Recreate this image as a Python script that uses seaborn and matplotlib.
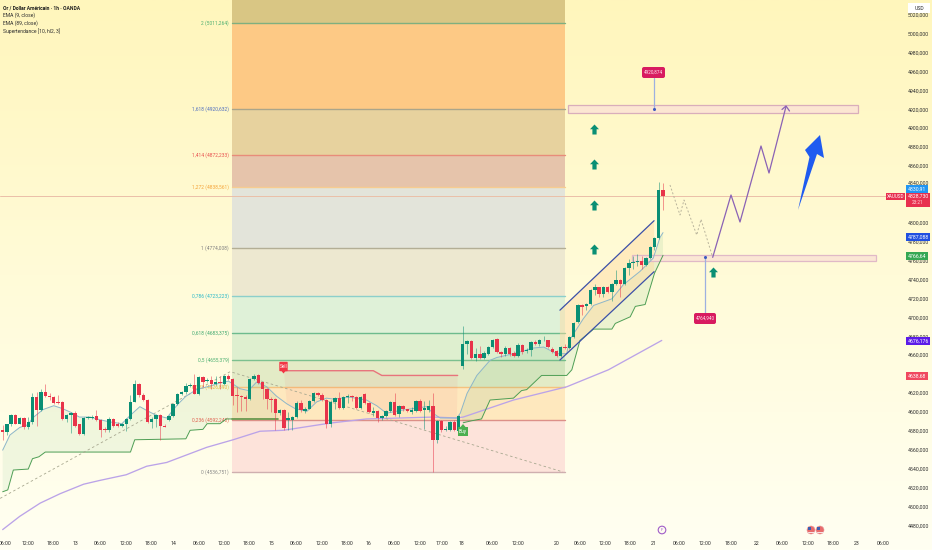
import numpy as np
import pandas as pd
import matplotlib
matplotlib.use('Agg')
import matplotlib.pyplot as plt
import seaborn as sns
from matplotlib.patches import Rectangle, Polygon, FancyBboxPatch, Circle
from matplotlib.path import Path
from matplotlib.transforms import Affine2D

sns.set_theme(style='white')
plt.rcParams['font.family'] = ['Roboto', 'DejaVu Sans']

# candles, 4xxx prices
opens = [581,579,588,597,588,594,585,590,616,602,621,617,616,611,611,593,597,599,588,577,594,594,596,592,582,581,593,588,586,588,
         593,611,630,618,613,590,593,597,586,592,596,609,619,621,628,629,619,637,633,634,630,632,630,638,635,618,617,616,614,635,
         639,632,625,614,614,599,602,592,592,595,610,601,604,612,620,618,613,588,611,615,605,616,617,616,605,619,610,599,601,594,
         596,601,611,598,607,603,600,601,612,602,602,607,571,591,581,581,590,580,649,672,675,657,662,657,662,669,678,664,662,668,
         663,660,671,665,666,674,672,676,676,667,665,660,669,668,680,695,714,712,715,729,732,725,733,727,736,740,736,753,758,759,
         760,756,763,775,784,835]
highs = [587,588,598,598,595,595,595,620,621,625,630,620,617,618,612,598,600,601,588,595,596,597,602,593,584,595,594,590,589,594,
         618,634,631,620,614,595,598,598,588,597,610,620,623,631,631,640,638,638,636,638,638,638,639,641,636,627,618,618,636,641,
         641,632,626,616,615,604,603,600,596,612,613,606,613,621,621,620,614,613,616,622,617,619,618,617,617,620,611,606,602,597,
         602,612,620,608,608,604,606,613,614,612,613,620,592,592,586,591,592,597,691,677,676,668,670,665,670,678,679,665,670,669,
         665,673,672,668,675,676,678,681,677,669,666,670,672,681,695,715,715,716,730,736,733,734,734,737,750,741,754,762,765,767,
         765,764,776,785,843,842]
lows = [571,576,586,588,588,582,582,588,586,601,616,613,609,609,592,590,578,584,576,576,593,593,591,574,579,579,585,584,584,580,
        592,611,616,612,589,583,584,571,584,591,595,608,618,619,627,619,618,627,632,625,629,625,629,634,608,600,601,601,613,634,
        630,614,604,600,581,597,581,581,581,594,600,599,603,611,617,612,583,585,604,604,604,610,612,603,604,609,599,596,590,592,
        595,600,596,595,601,600,598,600,600,582,600,537,568,579,580,580,580,578,646,662,656,654,656,656,661,668,663,658,660,660,
        658,659,662,663,660,671,670,675,668,663,659,659,667,667,679,694,703,708,714,724,722,722,726,718,735,722,735,745,752,755,
        752,755,762,772,783,814]
closes = [579,588,597,588,594,585,590,616,602,621,617,616,610,610,593,597,599,586,577,594,595,595,592,581,581,593,586,586,588,593,
          611,630,618,613,590,593,597,586,585,596,609,619,621,628,629,619,637,632,634,630,632,631,638,635,617,617,616,614,635,638,
          631,625,614,613,599,602,583,594,595,610,602,604,612,620,618,613,588,611,615,605,616,617,616,605,616,610,600,601,594,596,
          601,611,597,607,603,601,602,612,601,605,607,571,591,581,582,590,581,596,672,675,657,662,657,663,669,677,664,662,668,662,
          660,671,664,666,674,672,676,677,669,664,660,669,668,680,694,714,711,715,729,732,725,733,727,736,740,736,753,758,759,760,
          756,763,775,784,835,828.7]

ema9_bars = [0,1.7,4,6,7,9.5,12,14,16,18,20.5,23,25,28,30,32.2,33.8,36,38.5,41,43,45.5,48,51,53,55.7,57.7,59.6,62,64.3,66.7,68.6,
             71.4,73.7,76,77.6,81.5,85.4,87.8,90.1,93.3,96.4,99.5,101,102.7,106.6,107.4,109,111.3,114.4,116,119.9,124.6,127,130,132.4,
             133,136.3,138.7,143,145.7,149.6,152.7,154.3,155]
ema9_vals = [4560,4576,4584,4587,4594,4603,4607,4604,4600,4595,4595,4592,4590,4588,4597,4606,4602,4597,4594,4608,4617,4624,4627,4631,4633,
             4625,4623,4632,4627,4617,4609,4604,4601,4611,4615,4614,4616,4613,4607,4599,4602,4604,4606,4599,4594,4594,4599,4620,4639,4655,
             4658,4662,4668,4669,4662,4662,4676,4699,4713,4720,4735,4749,4763,4785,4790]

st_bars = [0,1.2,2.5,6,7,8.5,10,13,30,31,43,44,47,48,51,52.5,64.6]
st_vals = [4516,4518,4539,4540,4551,4553,4558,4558,4558,4571,4572,4581,4582,4588,4588,4593,4593]
st_red_bars = [66,87,89,106.8]
st_red_vals = [4644,4644,4639,4639]
st2_bars = [108.1,110,112.4,114.4,119.9,121.8,123,126.5,132.4,133.6,135.5,138.7,143,143.8,147.3,148.5,150.8,153,155]
st2_vals = [4589,4591,4593,4613,4615,4623,4624,4639,4639,4645,4676,4688,4688,4694,4701,4712,4714,4747,4766]

ema89_bars = [0,4,8.8,13.5,19,22.8,29,33.8,38.5,43.2,47.9,54.1,60.4,65.9,74.5,77.6,85.4,93.3,101,106.6,108.1,119.9,132.4,142.2,154.7]
ema89_vals = [4476,4490,4504,4514,4524,4528,4534,4543,4547,4555,4563,4571,4580,4581,4587,4589,4593,4594,4595,4594,4595,4613,4627,4645,4676]

fib_levels = [4536.751,4592.248,4627,4655.379,4683.375,4723.223,4774.008,4838.561,4872.233,4920.632,5011.264,5036]
fib_bands = ['#FDE3DA','#FEE8BE','#E3EBC6','#DEEFCF','#DFF1D8','#EDE8D0','#E3E4DA','#E6C4AB','#E7D29E','#FDC985','#D9C684']
fib_lines = ['#CFAFAF','#DC9088','#F5C27E','#7CC08F','#6DBB8D','#8CCFCB','#B3AE95','#F7CC90','#E88C7A','#AAA58A','#7FAF7F']
fib_names = ['0 (4536,751)','0,236 (4592,248)','0,382 (4626,890)','0,5 (4655,379)','0,618 (4683,375)','0,786 (4723,223)',
             '1 (4774,008)','1,272 (4838,561)','1,414 (4872,233)','1,618 (4920,632)','2 (5011,264)']
fib_text = ['#8A8A8A','#E0604F','#E8B93A','#4CAF70','#3FA86F','#28B8C8','#808080','#F5A53A','#E8504F','#4F6FC0','#4CAF70']
fib_left, fib_right = 53.8, 132

# 4820 and 4640 sit fully behind price tags in the reference
price_ticks = [p for p in range(4480, 5021, 20) if p not in (4820, 4640)]
time_bars = [0.5,6,11.8,17,22.8,29,34.8,40,46,52,57.8,63.2,68.9,75,80.8,85.8,91.9,98,103,107.8,115,121,130,135.5,141.4,147.3,
             152.7,158.8,164.9,171,177,183,189,195,200.5,206.7]
time_labels = ['06:00','12:00','18:00','13','06:00','12:00','18:00','14','06:00','12:00','18:00','15','06:00','12:00','18:00','16',
               '06:00','12:00','17:00','18','06:00','12:00','20','06:00','12:00','18:00','21','06:00','12:00','18:00','22',
               '06:00','12:00','18:00','23','06:00']

green, red = '#0B8F75', '#E8344A'
ink = '#2E2E2E'
W, H = 932, 550

fig = plt.figure(figsize=(9.32, 5.5), dpi=100)

# yellow wash behind everything
bg = fig.add_axes([0, 0, 1, 1], zorder=0)
bg.imshow(np.linspace(0, 1, 256).reshape(-1, 1), aspect='auto', extent=(0, 1, 0, 1),
          cmap=matplotlib.colors.LinearSegmentedColormap.from_list('wash', ['#FFF6BC', '#FFFBD8', '#FFFFF2']))
bg.axis('off')

ax = fig.add_axes([0, 1 - 535 / H, 905 / W, 535 / H], zorder=1)
ax.patch.set_alpha(0)
ax.set_xlim(-0.627, 211.8)
ax.set_ylim(4470.3, 5035.95)
sns.despine(ax=ax, left=True, bottom=True, right=True, top=True)

# drawings are placed in picture pixels, top-left origin
px = Affine2D().scale(1 / W, -1 / H).translate(0, 1) + fig.transFigure

# fib retracement
for i, col in enumerate(fib_bands):
    ax.fill_between([fib_left, fib_right], fib_levels[i], fib_levels[i + 1], color=col, lw=0, zorder=1)
for lev, col, name, tc in zip(fib_levels[:-1], fib_lines, fib_names, fib_text):
    ax.plot([fib_left, fib_right], [lev, lev], color=col, lw=1.0, zorder=2)
    ax.text(fib_left - 0.7, lev, name, color=tc, fontsize=3.5, ha='right', va='center', zorder=2.5)

# last price line
ax.plot([-0.627, 207.5], [4828.7, 4828.7], color='#EBBFA8', lw=0.7, zorder=2)

# supertrend fills and EMA lines
ax.fill(np.r_[ema9_bars[:30], st_bars[::-1]], np.r_[ema9_vals[:30], st_vals[::-1]], color='#2E9E5B', alpha=0.07, lw=0, zorder=2.2)
ax.fill(np.r_[ema9_bars[46:], st2_bars[::-1]], np.r_[ema9_vals[46:], st2_vals[::-1]], color='#2E9E5B', alpha=0.09, lw=0, zorder=2.2)
ax.fill(np.r_[ema9_bars[30:46], st_red_bars[::-1]], np.r_[ema9_vals[30:46], st_red_vals[::-1]], color='#E8344A', alpha=0.06, lw=0, zorder=2.2)

# price channel
ax.fill([130.8, 152.9, 152.9, 130.8], [4708, 4802.6, 4748.7, 4655.3], color='#FFD9A0', alpha=0.45, lw=0, zorder=2.3)

sns.lineplot(x=ema89_bars, y=ema89_vals, ax=ax, color='#BBA3E8', lw=0.95, estimator=None, sort=False, zorder=3)
sns.lineplot(x=ema9_bars, y=ema9_vals, ax=ax, color='#8DB6C9', lw=0.7, estimator=None, sort=False, zorder=3.5)
sns.lineplot(x=st_bars, y=st_vals, ax=ax, color='#4E9E55', lw=0.7, estimator=None, sort=False, zorder=3)
sns.lineplot(x=st2_bars, y=st2_vals, ax=ax, color='#4E9E55', lw=0.7, estimator=None, sort=False, zorder=3)
sns.lineplot(x=st_red_bars, y=st_red_vals, ax=ax, color='#E8747C', lw=1.0, estimator=None, sort=False, zorder=3)
ax.plot([fib_left, 64.6], [4593, 4593], color='#6E9A50', lw=1.2, zorder=3)

ax.plot([130.8, 152.9], [4708, 4802.6], color='#3B50A8', lw=0.9, zorder=4)
ax.plot([130.8, 152.9], [4655.3, 4748.7], color='#3B50A8', lw=0.9, zorder=4)

# swing dashed line
ax.plot([-0.6, 53.4, 131.5], [4509, 4643, 4537], color='#A8A890', lw=0.6, ls=(0, (3, 3)), zorder=3)

# candles
df = pd.DataFrame({'o': opens, 'h': highs, 'l': lows, 'c': closes}) + 4000
df['bar'] = np.arange(len(df))
df['col'] = np.where(df['c'] >= df['o'], green, red)
ax.vlines(df['bar'], df['l'], df['h'], colors=df['col'], lw=0.45, alpha=0.8, zorder=5)
ax.bar(df['bar'], (df['c'] - df['o']).abs().clip(lower=1), bottom=df[['o', 'c']].min(axis=1), width=0.8,
       color=df['col'], lw=0, zorder=5.5)
ax.set_xticks(time_bars)
ax.set_xticklabels(time_labels, fontsize=3.7, color=ink)
ax.set_yticks([])
ax.tick_params(axis='x', length=0, pad=4.5)
ax.set_xlabel('')
ax.set_ylabel('')
ax.set_xlim(-0.627, 211.8)
ax.set_ylim(4470.3, 5035.95)

# up arrows
arrow_marker = Path([(0, 1), (-0.9, 0.05), (-0.42, 0.05), (-0.42, -1), (0.42, -1), (0.42, 0.05), (0.9, 0.05), (0, 1)], closed=True)
arrow_px = [(594, 129), (594, 164), (594, 205), (594, 249), (713, 272)]
ax.scatter(*zip(*arrow_px), marker=arrow_marker, s=52, color='#0A8F74', lw=0, transform=px, zorder=7, clip_on=False)

# zones
ax.add_patch(Rectangle((568, 105), 290, 8, transform=px, fc='#FCE6D2', ec='#D9AEBB', lw=0.9, zorder=2.6))
ax.add_patch(Rectangle((632, 255), 243.5, 6, transform=px, fc='#FBE4D4', ec='#DDB3C6', lw=0.9, alpha=0.9, zorder=2.6))

# forecast paths
ax.plot([670, 680, 684, 696.7, 701, 712.7], [185, 215, 200, 235, 219.3, 257.3], transform=px, color='#B9B49C', lw=0.7,
        ls=(0, (2, 2)), zorder=6)
ax.plot([712.7, 731, 740, 761, 769, 786], [257.3, 195, 222, 146, 173, 106.5], transform=px, color='#8A62B5', lw=0.9, zorder=6)
ax.plot([782, 786, 789.5], [109.5, 106, 111], transform=px, color='#8A62B5', lw=0.9, zorder=6)

# big blue arrow
ax.add_patch(Polygon([(798, 210), (809.5, 157), (805, 150), (820, 135), (824, 158), (817, 154)], closed=True, transform=px,
                     fc='#1F5BF0', ec='none', zorder=7))

# target callouts
for (xs, ys, yt, x0, y0, w, h, label) in [(653.5, 78, 109, 642, 67, 23, 11, '4920,874'), (705, 313, 257, 694, 313, 22, 11, '4764,940')]:
    ax.plot([xs, xs], [ys, yt], transform=px, color='#9DB0E0', lw=0.9, zorder=7)
    ax.plot([xs], [yt], marker='o', ms=1.2, color='#3D5AC0', transform=px, zorder=7)
    ax.add_patch(FancyBboxPatch((x0 + 2, y0 + 2), w - 4, h - 4, boxstyle='round,pad=2', transform=px, fc='#D81B60', ec='none', zorder=8))
    ax.text(x0 + w / 2, y0 + h / 2, label, transform=px, color='#FFE4EE', fontsize=3.3, ha='center', va='center', zorder=9)

# sell / buy tags
ax.add_patch(FancyBboxPatch((280, 362.5), 7, 8, boxstyle='round,pad=0.7', transform=px, fc='#F23645', ec='none', zorder=8))
ax.add_patch(Polygon([(281.5, 371), (285.5, 371), (283.5, 373.5)], transform=px, fc='#F23645', ec='none', zorder=8))
ax.text(283.5, 366.5, 'Sell', transform=px, color='white', fontsize=3.4, ha='center', va='center', zorder=9)
ax.add_patch(Rectangle((458, 427), 10, 9, transform=px, fc='#4CAF50', ec='none', zorder=8))
ax.add_patch(Polygon([(460.5, 427), (465.5, 427), (463, 424)], transform=px, fc='#4CAF50', ec='none', zorder=8))
ax.text(463, 431.5, 'Buy', transform=px, color='white', fontsize=3.4, ha='center', va='center', zorder=9)

# header
fig.text(3 / W, 1 - 7.5 / H, 'Or / Dollar Américain · 1h · OANDA', fontsize=3.6, fontweight='bold', color='#1E1E1E', va='center')
fig.text(3 / W, 1 - 15.5 / H, 'EMA (9, close)', fontsize=3.6, color=ink, va='center')
fig.text(3 / W, 1 - 23.5 / H, 'EMA (89, close)', fontsize=3.6, color=ink, va='center')
fig.text(3 / W, 1 - 31.5 / H, 'Supertendance [10, hl2, 3]', fontsize=3.6, color=ink, va='center')

# price scale, 4840 peeks out just above its tag
for p in price_ticks:
    nudge = -2 if p == 4840 else 0
    ax.text(918.5, 34 + (5000 - p) * 0.9458 + nudge, f'{p},000', transform=px, fontsize=3.7, color=ink, ha='center', va='center',
            clip_on=False, zorder=7)
ax.add_patch(Rectangle((908, 3), 22, 10, transform=px, fc='white', ec='none', clip_on=False, zorder=8))
ax.text(919, 8, 'USD', transform=px, fontsize=3.7, color=ink, ha='center', va='center', zorder=9)
tags = [('4830,91', 184.5, 8, 22, '#2196F3'), ('4787,088', 233, 7.5, 24, '#2050E0'), ('4766,64', 252, 7.5, 22, '#34A853'),
        ('4676,176', 337, 8, 24, '#5B1BE8'), ('4638,68', 372, 8, 22, '#F0485F')]
for txt, top, h, w, col in tags:
    ax.add_patch(Rectangle((906, top), w, h, transform=px, fc=col, ec='none', clip_on=False, zorder=8))
    ax.text(906 + w / 2, top + h / 2 + 0.4, txt, transform=px, fontsize=3.7, color='white', ha='center', va='center', clip_on=False, zorder=9)
ax.add_patch(Rectangle((906, 193), 24, 14, transform=px, fc='#E8304F', ec='none', clip_on=False, zorder=8))
ax.text(918, 196.5, '4828,730', transform=px, fontsize=3.7, color='white', ha='center', va='center', clip_on=False, zorder=9)
ax.text(918, 203, '23:21', transform=px, fontsize=3.4, color='#FFD5DA', ha='center', va='center', clip_on=False, zorder=9)
ax.add_patch(Rectangle((886, 193), 19, 7, transform=px, fc='#E8304F', ec='none', clip_on=False, zorder=8))
ax.text(895.5, 196.5, 'XAUUSD', transform=px, fontsize=3.3, color='white', ha='center', va='center', clip_on=False, zorder=9)

# event icons on the time scale
ax.add_patch(Circle((662, 530), 3.8, transform=px, fc='#FFFDF0', ec='#A05CC8', lw=0.8, clip_on=False, zorder=8))
ax.text(662, 530, 'F', transform=px, fontsize=3, color='#A05CC8', ha='center', va='center', clip_on=False, zorder=9)
for cx in (811, 820):
    ax.add_patch(Circle((cx, 530), 4, transform=px, fc='#E86B6B', ec='#E8A0A0', lw=0.4, clip_on=False, zorder=8))
    ax.add_patch(Rectangle((cx - 3, 527), 3.2, 2.6, transform=px, fc='#3C5FB0', ec='none', clip_on=False, zorder=9))
    ax.plot([cx - 3, cx + 3], [531.5, 531.5], transform=px, color='#F8E8E8', lw=0.7, clip_on=False, zorder=9)

fig.savefig('out.png', dpi=100)
plt.close(fig)
